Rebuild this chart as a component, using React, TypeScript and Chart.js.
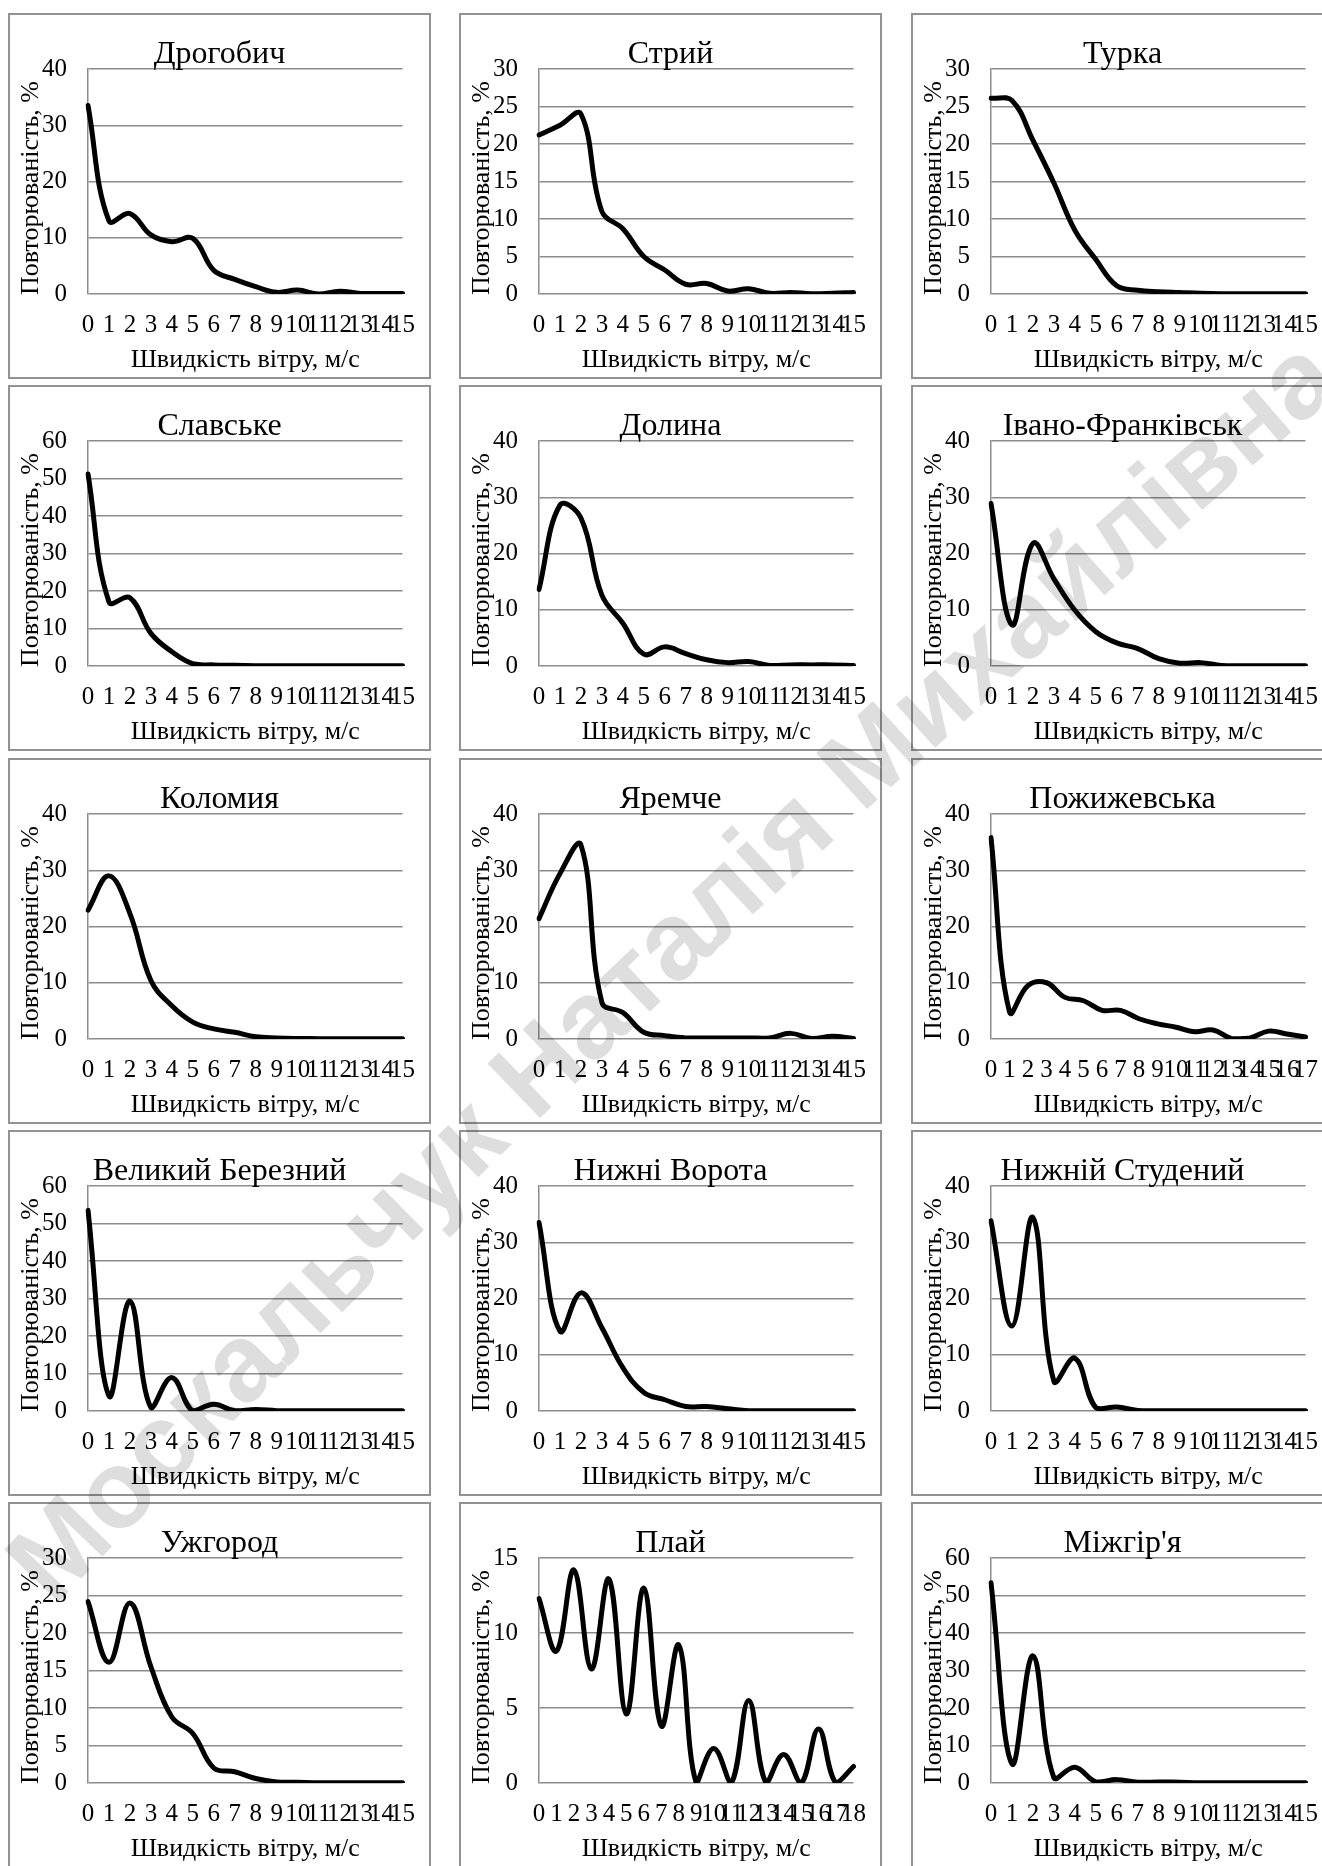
import React, { useEffect, useRef } from "react";
import { Chart, registerables } from "chart.js";

Chart.register(...registerables);

// ---------- tick labels (wind speed, m/s) ----------
const SPEED_0_15 = ["0", "1", "2", "3", "4", "5", "6", "7", "8", "9", "10", "11", "12", "13", "14", "15"];
const SPEED_0_17 = ["0", "1", "2", "3", "4", "5", "6", "7", "8", "9", "10", "11", "12", "13", "14", "15", "16", "17"];
const SPEED_0_18 = ["0", "1", "2", "3", "4", "5", "6", "7", "8", "9", "10", "11", "12", "13", "14", "15", "16", "17", "18"];

// ---------- station titles ----------
const STATIONS = [
  "Дрогобич", "Стрий", "Турка",
  "Славське", "Долина", "Івано-Франківськ",
  "Коломия", "Яремче", "Пожижевська",
  "Великий Березний", "Нижні Ворота", "Нижній Студений",
  "Ужгород", "Плай", "Міжгір'я",
];

// ---------- repeatability, % ----------
const DROHOBYCH = [33.5, 13, 14.3, 10.5, 9.3, 9.9, 4.2, 2.6, 1.3, 0.3, 0.7, 0, 0.5, 0.1, 0.1, 0.1];
const STRYI = [21.2, 22.5, 24, 11, 8.7, 5, 3.2, 1.3, 1.4, 0.4, 0.7, 0.1, 0.2, 0.05, 0.1, 0.2];
const TURKA = [26.1, 25.8, 20.5, 14.8, 8.5, 4.6, 1.1, 0.5, 0.3, 0.2, 0.1, 0.05, 0.05, 0.05, 0.05, 0.05];
const SLAVSKE = [51.2, 17.1, 18.2, 8.7, 3.8, 0.6, 0.3, 0.2, 0.1, 0.05, 0.05, 0.05, 0.05, 0.05, 0.05, 0.05];
const DOLYNA = [13.6, 28.6, 26.3, 12.6, 7.6, 2.1, 3.4, 2.2, 1.1, 0.6, 0.8, 0.1, 0.2, 0.2, 0.2, 0.1];
const IVANO_FRANKIVSK = [28.9, 7.3, 21.8, 15.5, 9.9, 6.1, 4.1, 3.1, 1.3, 0.5, 0.6, 0.1, 0.05, 0.05, 0.05, 0.05];
const KOLOMYIA = [22.9, 29, 22.3, 10.4, 5.9, 3, 1.8, 1.2, 0.4, 0.2, 0.1, 0.05, 0.05, 0.05, 0.05, 0.05];
const YAREMCHE = [21.4, 29.4, 34.5, 6.5, 4.7, 1.2, 0.6, 0.2, 0.2, 0.2, 0.2, 0.2, 1.0, 0.1, 0.5, 0.1];
const POZHYZHEVSKA = [35.8, 4.8, 9.5, 10, 7.4, 6.8, 5.1, 5.1, 3.6, 2.7, 2.1, 1.3, 1.6, 0.1, 0.2, 1.4, 0.9, 0.35];
const VELYKYI_BEREZNYI = [53.5, 4, 29.3, 0.9, 8.9, 0, 1.8, 0.05, 0.4, 0.1, 0.05, 0.05, 0.05, 0.05, 0.05, 0.05];
const NYZHNI_VOROTA = [33.5, 14.2, 21, 14.8, 7.7, 3.3, 2, 0.8, 0.8, 0.4, 0.05, 0.05, 0.05, 0.05, 0.05, 0.05];
const NYZHNII_STUDENYI = [33.8, 15.1, 34.4, 5.3, 9.4, 0.6, 0.7, 0.1, 0.05, 0.05, 0.05, 0.05, 0.05, 0.05, 0.05, 0.05];
const UZHHOROD = [24.2, 16.1, 24, 15.5, 8.8, 6.6, 2, 1.5, 0.6, 0.15, 0.1, 0.05, 0.05, 0.05, 0.05, 0.05];
const PLAI = [12.3, 8.8, 14.2, 7.6, 13.6, 4.6, 13, 3.8, 9.2, 0, 2.3, 0, 5.5, 0, 1.9, 0, 3.6, 0, 1.1];
const MIZHHIRIA = [53.4, 5.1, 33.9, 1.4, 4.2, 0.3, 0.9, 0.2, 0.3, 0.2, 0.1, 0.1, 0.1, 0.1, 0.1, 0.1];

// y-axis maxima and steps
const Y_MAX = [40, 30, 30, 60, 40, 40, 40, 40, 40, 60, 40, 40, 30, 15, 60];
const Y_STEP = [10, 5, 5, 10, 10, 10, 10, 10, 10, 10, 10, 10, 5, 5, 10];

const SERIES = [
  DROHOBYCH, STRYI, TURKA,
  SLAVSKE, DOLYNA, IVANO_FRANKIVSK,
  KOLOMYIA, YAREMCHE, POZHYZHEVSKA,
  VELYKYI_BEREZNYI, NYZHNI_VOROTA, NYZHNII_STUDENYI,
  UZHHOROD, PLAI, MIZHHIRIA,
];
const LABELS = [
  SPEED_0_15, SPEED_0_15, SPEED_0_15,
  SPEED_0_15, SPEED_0_15, SPEED_0_15,
  SPEED_0_15, SPEED_0_15, SPEED_0_17,
  SPEED_0_15, SPEED_0_15, SPEED_0_15,
  SPEED_0_15, SPEED_0_18, SPEED_0_15,
];

const Y_TITLE = "Повторюваність, %";
const X_TITLE = "Швидкість вітру, м/с";
const WATERMARK = "Москальчук Наталія Михайлівна";

// ---------- layout ----------
const COL_X = [8, 459, 911];
const ROW_Y = [13, 385, 758, 1130, 1502];
const PANEL_W = 423;
const PANEL_H = 366;
const PLOT_LEFT = 80;
const PLOT_RIGHT = 395;
const PLOT_TOP = 56;
const PLOT_BOTTOM = 281;
const SERIF = '"Liberation Serif", "Times New Roman", serif';
const GRID = "#8c8c8c";

function Panel(props: { idx: number; left: number; top: number }) {
  const { idx, left, top } = props;
  const ref = useRef<HTMLCanvasElement | null>(null);

  useEffect(() => {
    const canvas = ref.current;
    if (!canvas) return;
    const title = STATIONS[idx];
    const textPlugin = {
      id: "panelText",
      afterDraw(chart: any) {
        const ctx = chart.ctx as CanvasRenderingContext2D;
        const area = chart.chartArea;
        ctx.save();
        ctx.fillStyle = "#000";
        ctx.textAlign = "center";
        ctx.textBaseline = "alphabetic";
        ctx.font = `32px ${SERIF}`;
        ctx.fillText(title, PANEL_W / 2, 50);
        ctx.font = `26px ${SERIF}`;
        ctx.fillText(X_TITLE, (area.left + area.right) / 2, 354);
        ctx.translate(30, 175);
        ctx.rotate(-Math.PI / 2);
        ctx.fillText(Y_TITLE, 0, 0);
        ctx.restore();
      },
    };

    const chart = new Chart(canvas, {
      type: "line",
      data: {
        labels: LABELS[idx],
        datasets: [
          {
            data: SERIES[idx],
            borderColor: "#000",
            borderWidth: 5,
            pointRadius: 0,
            pointHoverRadius: 0,
            fill: false,
            tension: 0.4,
            borderCapStyle: "round",
            borderJoinStyle: "round",
          },
        ],
      },
      options: {
        animation: false,
        responsive: false,
        maintainAspectRatio: false,
        events: [],
        layout: {
          padding: { left: 0, right: PANEL_W - PLOT_RIGHT, top: PLOT_TOP, bottom: 0 },
        },
        plugins: {
          legend: { display: false },
          tooltip: { enabled: false },
          title: { display: false },
        },
        scales: {
          x: {
            type: "category",
            offset: false,
            grid: { display: false, drawTicks: false },
            border: { display: false },
            ticks: {
              autoSkip: false,
              maxRotation: 0,
              minRotation: 0,
              padding: 16,
              color: "#000",
              font: { family: SERIF, size: 25 },
            },
            afterFit: (s: any) => {
              s.height = PANEL_H - PLOT_BOTTOM;
            },
          },
          y: {
            min: 0,
            max: Y_MAX[idx],
            ticks: {
              stepSize: Y_STEP[idx],
              padding: 21,
              color: "#000",
              font: { family: SERIF, size: 25 },
            },
            grid: { color: GRID, lineWidth: 1.5, drawTicks: false },
            border: { display: true, color: GRID, width: 1.5 },
            afterFit: (s: any) => {
              s.width = PLOT_LEFT;
            },
          },
        },
      } as any,
      plugins: [textPlugin],
    });
    return () => chart.destroy();
  }, [idx]);

  return (
    <div style={{ position: "absolute", left, top, width: PANEL_W, height: PANEL_H, background: "#fff" }}>
      <canvas
        ref={ref}
        width={PANEL_W}
        height={PANEL_H}
        style={{ position: "absolute", left: 0, top: 0, width: PANEL_W, height: PANEL_H }}
      />
      <div
        style={{
          position: "absolute",
          left: 0,
          top: 0,
          width: PANEL_W,
          height: PANEL_H,
          border: "2px solid #929292",
          boxSizing: "border-box",
        }}
      />
    </div>
  );
}

function Watermark() {
  const fontSize = 110;
  const fontFamily = '"Liberation Sans", Arial, sans-serif';
  const font = `bold ${fontSize}px ${fontFamily}`;
  const mctx = document.createElement("canvas").getContext("2d") as CanvasRenderingContext2D;
  mctx.font = font;
  const chars = Array.from(WATERMARK);
  const widths = chars.map((c) => mctx.measureText(c).width);
  const total = widths.reduce((a, b) => a + b, 0);

  const A = { x: 24, y: 1583 };
  const B = { x: 659, y: 951 };
  const C = { x: 1321, y: 357 };
  const d = 2 * (A.x * (B.y - C.y) + B.x * (C.y - A.y) + C.x * (A.y - B.y));
  const a2 = A.x * A.x + A.y * A.y;
  const b2 = B.x * B.x + B.y * B.y;
  const c2 = C.x * C.x + C.y * C.y;
  const ux = (a2 * (B.y - C.y) + b2 * (C.y - A.y) + c2 * (A.y - B.y)) / d;
  const uy = (a2 * (C.x - B.x) + b2 * (A.x - C.x) + c2 * (B.x - A.x)) / d;
  const R = Math.hypot(A.x - ux, A.y - uy);
  const phiA = Math.atan2(A.y - uy, A.x - ux);
  const phiC = Math.atan2(C.y - uy, C.x - ux);
  let sweep = phiC - phiA;
  while (sweep > Math.PI) sweep -= 2 * Math.PI;
  while (sweep < -Math.PI) sweep += 2 * Math.PI;
  const sign = Math.sign(sweep);
  const L = R * Math.abs(sweep);
  let s = (L - total) / 2;

  const spans = chars.map((ch, i) => {
    const mid = s + widths[i] / 2;
    s += widths[i];
    const phi = phiA + (sign * mid) / R;
    const x = ux + R * Math.cos(phi);
    const y = uy + R * Math.sin(phi);
    const theta = phi + (sign * Math.PI) / 2;
    return (
      <span
        key={i}
        style={{
          position: "absolute",
          left: x,
          top: y,
          transform: `translate(-50%, -50%) rotate(${theta}rad)`,
          font,
          lineHeight: `${fontSize}px`,
          color: "#dedede",
          whiteSpace: "pre",
        }}
      >
        {ch}
      </span>
    );
  });

  return (
    <div
      style={{
        position: "absolute",
        left: 0,
        top: 0,
        width: 1322,
        height: 1866,
        pointerEvents: "none",
        mixBlendMode: "multiply",
      }}
    >
      {spans}
    </div>
  );
}

export default function App() {
  const panels = STATIONS.map((_, i) => (
    <Panel key={i} idx={i} left={COL_X[i % 3]} top={ROW_Y[Math.floor(i / 3)]} />
  ));
  return (
    <div
      style={{
        position: "absolute",
        left: 0,
        top: 0,
        width: 1322,
        height: 1866,
        overflow: "hidden",
        background: "#fff",
      }}
    >
      {panels}
      <Watermark />
    </div>
  );
}
